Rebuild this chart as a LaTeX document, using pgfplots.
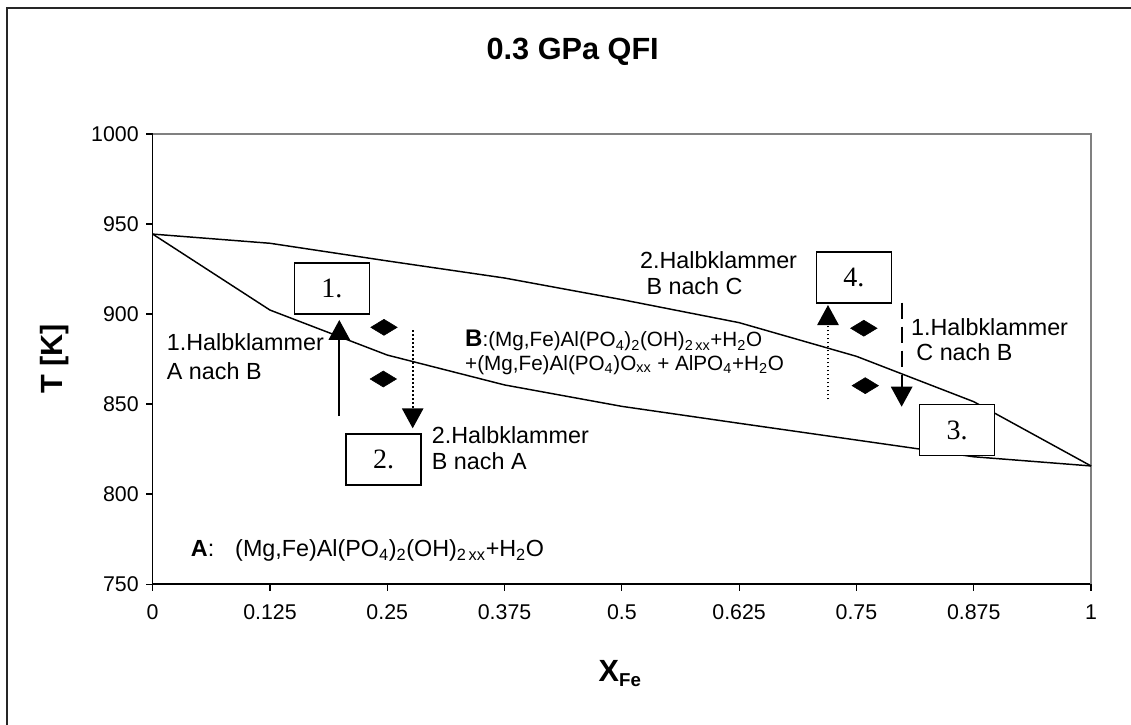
\documentclass[border=0pt]{standalone}
\usepackage{fontspec}
\setmainfont{Liberation Sans}
\newfontfamily\seriffont{Liberation Serif}
\usepackage{pgfplots}
\pgfplotsset{compat=1.18}
\usetikzlibrary{arrows.meta}

\newcommand{\annfont}{\fontsize{17.5}{20}\selectfont}
\newcommand{\bfont}{\fontsize{15.5}{18}\selectfont}
\newcommand{\boxfont}{\seriffont\fontsize{21}{21}\selectfont}

\begin{document}
\begin{tikzpicture}
\useasboundingbox (-114.5pt,-105pt) rectangle (733.7pt,438pt);
\draw[line width=1pt, black!85] (-109.3pt,-130pt) -- (-109.3pt,432pt) -- (760pt,432pt);
\node[font=\bfseries\fontsize{23}{23}\selectfont] at (315pt,399pt) {0.3 GPa QFI};
\node[font=\bfseries\fontsize{23}{23}\selectfont, anchor=base] at (350.6pt,-73.3pt) {X\textsubscript{\fontsize{14}{14}\selectfont Fe}};
\node[font=\bfseries\fontsize{23}{23}\selectfont, rotate=90, anchor=base] at (-67.3pt,168.75pt) {T [K]};

\begin{axis}[
  at={(0,0)}, anchor=south west, scale only axis,
  width=703.7pt, height=337.5pt,
  xmin=0, xmax=1, ymin=750, ymax=1000,
  axis line style={draw=none},
  xtick={0,0.125,0.25,0.375,0.5,0.625,0.75,0.875,1},
  xticklabels={0,0.125,0.25,0.375,0.5,0.625,0.75,0.875,1},
  ytick={750,800,850,900,950,1000},
  yticklabels={750,800,850,900,950,1000},
  xtick pos=bottom, ytick pos=left,
  tick align=outside, major tick length=5pt,
  tick style={black, line width=0.8pt},
  ticklabel style={font=\fontsize{16}{16}\selectfont},
  xticklabel style={yshift=-7pt},
  yticklabel style={xshift=-2pt},
  clip=false,
]
\draw[black, line width=1pt] (axis cs:0,1000) -- (axis cs:0,750) -- (axis cs:1,750);
\draw[black!50, line width=1pt] (axis cs:0,1000) -- (axis cs:1,1000) -- (axis cs:1,750);

% phase boundaries
\addplot[black, line width=1.1pt, mark=none] coordinates {
 (0,944.4) (0.125,939.3) (0.25,929.5) (0.375,920) (0.5,908) (0.625,895.2) (0.75,876.5) (0.875,851.3) (1,815.6)};
\addplot[black, line width=1.1pt, mark=none] coordinates {
 (0,944.4) (0.125,902.2) (0.25,877.2) (0.375,860.6) (0.5,848.7) (0.625,839.3) (0.75,830) (0.875,820.7) (1,815.6)};

% experiments
\addplot[only marks, mark=diamond*, mark size=6pt, mark options={xscale=2.2, fill=black, draw=black, line width=0.4pt}] coordinates {
 (0.2465,892.6) (0.2458,863.9) (0.7579,892.1) (0.7594,860.2)};

% arrows
\addplot[black, line width=1.3pt, -{Triangle[length=15pt,width=16pt]}] coordinates {(0.1989,843.3) (0.1989,896.7)};
\addplot[black, line width=1.3pt, dash pattern=on 1.3pt off 1.7pt, -{Triangle[length=15pt,width=16pt]}] coordinates {(0.2771,891.1) (0.2771,836.5)};
\addplot[black, line width=1.3pt, dash pattern=on 1.3pt off 1.7pt, -{Triangle[length=15pt,width=16pt]}] coordinates {(0.7197,852.6) (0.7197,905)};
\addplot[black, line width=1.3pt, dash pattern=on 12pt off 6pt, -{Triangle[length=15pt,width=16pt]}] coordinates {(0.7982,906.3) (0.7982,848.5)};

% numbered boxes
\node[draw, line width=1pt, fill=white, minimum width=56.25pt, minimum height=38.25pt, inner sep=0pt, font=\boxfont] at (axis cs:0.1909,914.2) {1.};
\node[draw, line width=1pt, fill=white, minimum width=56.25pt, minimum height=38.25pt, inner sep=0pt, font=\boxfont] at (axis cs:0.246,819.2) {2.};
\node[draw, line width=1pt, fill=white, minimum width=56.25pt, minimum height=38.25pt, inner sep=0pt, font=\boxfont] at (axis cs:0.8572,835.6) {3.};
\node[draw, line width=1pt, fill=white, minimum width=56.25pt, minimum height=38.25pt, inner sep=0pt, font=\boxfont] at (axis cs:0.7473,920.3) {4.};

% annotations
\node[anchor=base west, inner sep=0pt, font=\annfont] at (axis cs:0.0149,879.6) {1.Halbklammer};
\node[anchor=base west, inner sep=0pt, font=\annfont] at (axis cs:0.0149,863.7) {A nach B};
\node[anchor=base west, inner sep=0pt, font=\annfont] at (axis cs:0.2973,828.2) {2.Halbklammer};
\node[anchor=base west, inner sep=0pt, font=\annfont] at (axis cs:0.2973,813.7) {B nach A};
\node[anchor=base west, inner sep=0pt, font=\annfont] at (axis cs:0.5192,925.4) {2.Halbklammer};
\node[anchor=base west, inner sep=0pt, font=\annfont] at (axis cs:0.526,910.6) {B nach C};
\node[anchor=base west, inner sep=0pt, font=\annfont] at (axis cs:0.808,888.3) {1.Halbklammer};
\node[anchor=base west, inner sep=0pt, font=\annfont] at (axis cs:0.8137,874.4) {C nach B};
\node[anchor=base west, inner sep=0pt, font=\bfont] at (axis cs:0.3328,881.8) {{\fontsize{18}{18}\selectfont\bfseries B}:(Mg,Fe)Al(PO\textsubscript{4})\textsubscript{2}(OH)\textsubscript{2\,xx}+H\textsubscript{2}O};
\node[anchor=base west, inner sep=0pt, font=\bfont] at (axis cs:0.3328,868.9) {+(Mg,Fe)Al(PO\textsubscript{4})O\textsubscript{xx} + AlPO\textsubscript{4}+H\textsubscript{2}O};
\node[anchor=base west, inner sep=0pt, font=\annfont] at (axis cs:0.0405,765.2) {\textbf{A}:};
\node[anchor=base west, inner sep=0pt, font=\annfont] at (axis cs:0.0877,765.2) {(Mg,Fe)Al(PO\textsubscript{4})\textsubscript{2}(OH)\textsubscript{2\,xx}+H\textsubscript{2}O};
\end{axis}
\end{tikzpicture}
\end{document}
